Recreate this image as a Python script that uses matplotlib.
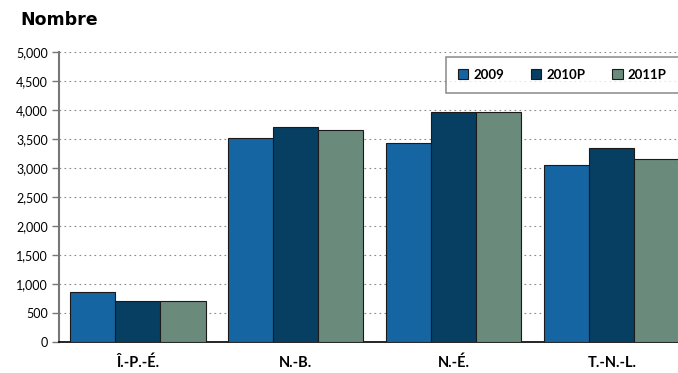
import numpy as np
import matplotlib.pyplot as plt
from matplotlib.ticker import FuncFormatter

provinces = ['Î.-P.-É.', 'N.-B.', 'N.-É.', 'T.-N.-L.']
series = ['2009', '2010P', '2011P']
v2009 = [870, 3520, 3440, 3050]
v2010p = [700, 3700, 3960, 3340]
v2011p = [700, 3650, 3960, 3150]

colors = ['#1565a3', '#073f63', '#6a8a7c']

fig = plt.figure(figsize=(6.78, 3.73), dpi=100)
ax = fig.add_axes([0.087, 0.083, 0.932, 0.7775])

x = np.arange(len(provinces))
w = 0.285
for i, (vals, lab) in enumerate(zip([v2009, v2010p, v2011p], series)):
    ax.bar(x + (i - 1) * w, vals, w, color=colors[i], edgecolor='#1a1a1a',
           linewidth=0.8, label=lab, zorder=3)

ax.set_xlim(-0.5, 3.5)
ax.set_ylim(0, 5000)
ax.set_yticks(np.arange(0, 5001, 500))
ax.yaxis.set_major_formatter(FuncFormatter(lambda v, p: f'{int(v):,}'))
ax.set_xticks(x)
ax.set_xticklabels(provinces, fontsize=10.5, fontweight='bold', family='Lato')
ax.tick_params(axis='x', length=0, pad=10)
ax.tick_params(axis='y', length=5, width=1, color='#777777', labelsize=9, pad=3)
for t in ax.get_yticklabels():
    t.set_family('Lato')

ax.grid(axis='y', linestyle=(0, (1.5, 3)), color='#888888', linewidth=0.8, zorder=0)
for s in ['top', 'right']:
    ax.spines[s].set_visible(False)
ax.spines['left'].set_color('#777777')
ax.spines['left'].set_linewidth(1.5)
ax.spines['bottom'].set_color('black')
ax.spines['bottom'].set_linewidth(1.2)

leg = ax.legend(loc='upper left', bbox_to_anchor=(446 / 678, 1 - 57 / 373),
                bbox_transform=fig.transFigure, ncol=3, frameon=True,
                fancybox=False, handlelength=0.8, handleheight=0.8,
                handletextpad=0.4, columnspacing=2.0, borderpad=0.9,
                borderaxespad=0,
                prop={'family': 'Lato', 'weight': 'bold', 'size': 9.5})
leg.get_frame().set_edgecolor('#777777')
leg.get_frame().set_linewidth(1.2)

fig.text(20 / 678, 1 - 20 / 373, 'Nombre', fontsize=12.5, fontweight='bold',
         family='DejaVu Sans', va='center', ha='left')

fig.savefig('out.png', dpi=100)
